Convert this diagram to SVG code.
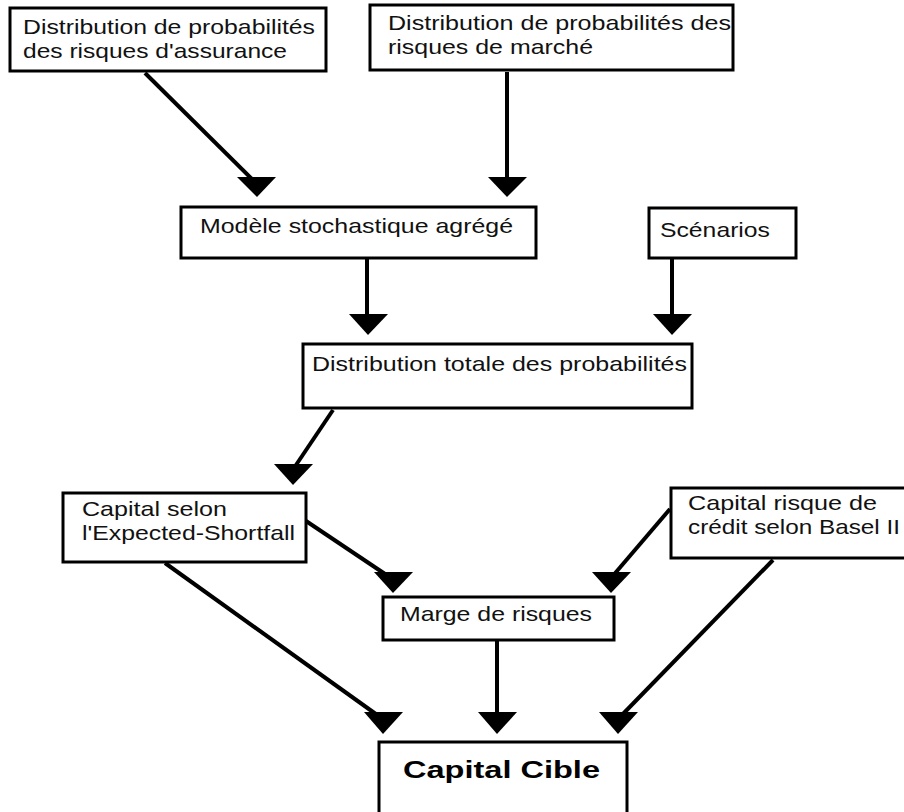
<svg xmlns="http://www.w3.org/2000/svg" width="904" height="812" viewBox="0 0 904 812">
<style>
.box{fill:#fff;stroke:#000;stroke-width:3}
.t{font-family:"Liberation Sans",Arial,sans-serif;font-size:21px;fill:#111}
.tb{font-family:"Liberation Sans",Arial,sans-serif;font-size:24px;font-weight:bold;fill:#000}
.ln{stroke:#000;stroke-width:4;fill:none}
.ah{fill:#000}
</style>
<rect width="904" height="812" fill="#fff"/>
<g id="connectors">
<line class="ln" x1="145" y1="73" x2="255" y2="182"/>
<polygon class="ah" points="237,177 276,177 257,197"/>
<line class="ln" x1="507" y1="72" x2="507" y2="180"/>
<polygon class="ah" points="488,177 527,177 507,197"/>
<line class="ln" x1="367" y1="259" x2="367" y2="318"/>
<polygon class="ah" points="349,314 388,314 368,335"/>
<line class="ln" x1="672" y1="258" x2="672" y2="318"/>
<polygon class="ah" points="653,314 692,314 672,335"/>
<line class="ln" x1="333" y1="410" x2="294" y2="468"/>
<polygon class="ah" points="274,464 313,464 293,485"/>
<line class="ln" x1="306" y1="521" x2="391" y2="578"/>
<polygon class="ah" points="374,572 413,572 393,593"/>
<line class="ln" x1="670" y1="509" x2="611" y2="578"/>
<polygon class="ah" points="592,572 631,572 611,593"/>
<line class="ln" x1="165" y1="563" x2="380" y2="717"/>
<polygon class="ah" points="364,712 403,712 383,734"/>
<line class="ln" x1="497" y1="640" x2="497" y2="717"/>
<polygon class="ah" points="478,712 517,712 497,734"/>
<line class="ln" x1="773" y1="560" x2="620" y2="717"/>
<polygon class="ah" points="599,712 638,712 618,734"/>
</g>
<g id="n1"><rect class="box" x="10" y="8" width="316" height="63"/>
<text class="t" x="23" y="34" textLength="292" lengthAdjust="spacingAndGlyphs">Distribution de probabilités</text>
<text class="t" x="23" y="58" textLength="264" lengthAdjust="spacingAndGlyphs">des risques d'assurance</text></g>
<g id="n2"><rect class="box" x="370" y="5" width="363" height="65"/>
<text class="t" x="388" y="30" textLength="343" lengthAdjust="spacingAndGlyphs">Distribution de probabilités des</text>
<text class="t" x="388" y="54" textLength="205" lengthAdjust="spacingAndGlyphs">risques de marché</text></g>
<g id="n3"><rect class="box" x="181" y="207" width="355" height="51"/>
<text class="t" x="200" y="233" textLength="313" lengthAdjust="spacingAndGlyphs">Modèle stochastique agrégé</text></g>
<g id="n4"><rect class="box" x="649" y="208" width="147" height="50"/>
<text class="t" x="660" y="237" textLength="110" lengthAdjust="spacingAndGlyphs">Scénarios</text></g>
<g id="n5"><rect class="box" x="303" y="344" width="389" height="64"/>
<text class="t" x="312" y="371" textLength="375" lengthAdjust="spacingAndGlyphs">Distribution totale des probabilités</text></g>
<g id="n6"><rect class="box" x="63" y="493" width="243" height="69"/>
<text class="t" x="82" y="516" textLength="145" lengthAdjust="spacingAndGlyphs">Capital selon</text>
<text class="t" x="82" y="540" textLength="213" lengthAdjust="spacingAndGlyphs">l'Expected-Shortfall</text></g>
<g id="n7"><rect class="box" x="671" y="488" width="245" height="70"/>
<text class="t" x="688" y="510" textLength="189" lengthAdjust="spacingAndGlyphs">Capital risque de</text>
<text class="t" x="688" y="534" textLength="212" lengthAdjust="spacingAndGlyphs">crédit selon Basel II</text></g>
<g id="n8"><rect class="box" x="383" y="597" width="231" height="43"/>
<text class="t" x="400" y="621" textLength="192" lengthAdjust="spacingAndGlyphs">Marge de risques</text></g>
<g id="n9"><rect class="box" x="379" y="742" width="248" height="75"/>
<text class="tb" x="403" y="778" textLength="197" lengthAdjust="spacingAndGlyphs">Capital Cible</text></g>
</svg>
